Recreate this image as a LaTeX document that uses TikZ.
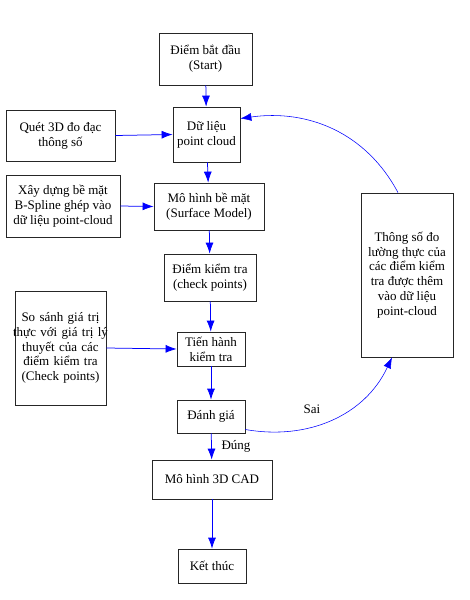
\documentclass[tikz,border=0pt]{standalone}
\usepackage{fontspec}
\setmainfont{Liberation Serif}
\usetikzlibrary{arrows.meta}

\begin{document}
\begin{tikzpicture}[x=1pt,y=-1pt,every node/.style={font=\fontsize{13}{14.8}\selectfont},
  box/.style={draw=black!85,line width=0.75pt,align=center,inner sep=2pt},
  flow/.style={draw=blue,line width=0.75pt,-{Latex[length=11pt,width=8pt]}},
  back/.style={draw=blue,line width=0.55pt,-{Latex[length=11pt,width=8pt]}}]
  \useasboundingbox (0,0) rectangle (469,600);
  \node (start) at (205.5,59) [box,minimum width=93pt,minimum height=52pt]{Điểm bắt đầu\\(Start)};
  \node (cloud) at (206.5,134.5) [box,minimum width=67pt,minimum height=55pt]{Dữ liệu\\point cloud};
  \node (scan) at (60.5,135.5) [box,minimum width=109pt,minimum height=51pt]{Quét 3D đo đạc\\thông số};
  \node (surf) at (209,206.5) [box,minimum width=110pt,minimum height=47pt]{Mô hình bề mặt\\(Surface Model)};
  \node (bspline) at (63,206) [box,minimum width=114pt,minimum height=62pt]{Xây dựng bề mặt\\B-Spline ghép vào\\dữ liệu point-cloud};
  \node (params) at (407,275) [box,minimum width=92pt,minimum height=164pt]{Thông số đo\\lường thực của\\các điểm kiểm\\tra được thêm\\vào dữ liệu\\point-cloud};
  \node (check) at (210,277.5) [box,minimum width=92pt,minimum height=47pt]{Điểm kiểm tra\\(check points)};
  \node (compare) at (60.5,348) [box,text width=87pt,minimum height=114pt]{So sánh giá trị\\\makebox[87pt][c]{thực với giá trị lý}\\thuyết của các\\điểm kiểm tra\\(Check points)};
  \node (exec) at (211,349) [box,minimum width=68pt,minimum height=34pt]{Tiến hành\\kiểm tra};
  \node (eval) at (211,416.5) [box,minimum width=68pt,minimum height=33pt]{Đánh giá};
  \node (cad) at (212,479.5) [box,minimum width=120pt,minimum height=39pt]{Mô hình 3D CAD};
  \node (end) at (212,566) [box,minimum width=68pt,minimum height=34pt]{Kết thúc};
  \node (sai) at (312,409) {Sai};
  \node (dung) at (236,446) {Đúng};

  \draw[flow] (start) -- (cloud);
  \draw[flow] (cloud) -- (surf);
  \draw[flow] (surf) -- (check);
  \draw[flow] (check) -- (exec);
  \draw[flow] (exec) -- (eval);
  \draw[flow] (eval) -- (cad);
  \draw[flow] (cad) -- (end);
  \draw[flow] (scan.east) -- (cloud.west);
  \draw[flow] (bspline.east) -- (surf.west);
  \draw[flow] (compare.east) -- (exec.west);
  \draw[back] ([xshift=-9pt]params.north) to[out=118,in=8] ([yshift=16pt]cloud.east);
  \draw[back] ([yshift=-13pt]eval.east) to[out=-10,in=245] ([xshift=-15pt]params.south);
\end{tikzpicture}
\end{document}
